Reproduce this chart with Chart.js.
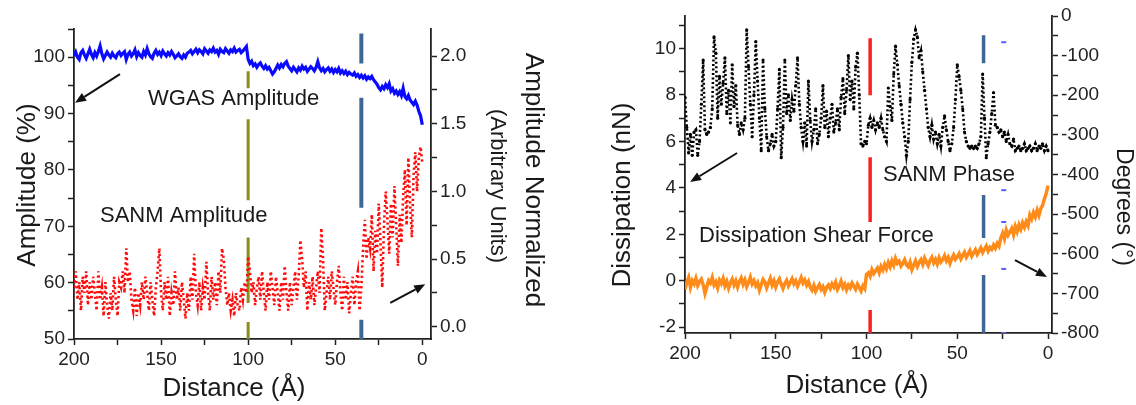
<!DOCTYPE html>
<html>
<head>
<meta charset="utf-8">
<script src="https://cdn.jsdelivr.net/npm/chart.js@4.4.0/dist/chart.umd.min.js"></script>
<style>
  html, body { margin: 0; padding: 0; background: #fff; }
  #wrap { position: relative; width: 1136px; height: 405px; overflow: hidden; }
  #left { position: absolute; left: 0; top: 0; }
  #right { position: absolute; left: 575px; top: 0; }
</style>
</head>
<body>
<div id="wrap">
  <canvas id="left" width="575" height="405"></canvas>
  <canvas id="right" width="561" height="405"></canvas>
</div>
<script>
var FONT = '"Liberation Sans", Arial, Helvetica, sans-serif';

// distance grid, 200 A down to 0 A
var distance = [];
for (var d = 200; d >= 0; d--) distance.push(d);

// left panel: WGAS amplitude (%), left axis
var wgasAmplitude = [
  100.2, 100.9, 100.0, 99.6, 100.8, 101.2, 100.4, 99.8, 100.6, 101.4,
  100.5, 99.9, 100.8, 100.2, 101.0, 102.0, 100.6, 99.7, 100.3, 100.9,
  100.4, 100.0, 100.7, 100.2, 99.9, 100.6, 100.9, 100.3, 100.7, 101.0,
  99.6, 100.5, 100.9, 100.2, 100.6, 101.3, 100.1, 100.8, 100.3, 100.0,
  101.0, 100.4, 101.5, 100.6, 100.1, 99.8, 100.7, 101.2, 100.5, 100.9,
  100.3, 101.1, 100.6, 100.2, 100.8, 100.4, 101.0, 100.5, 99.9, 100.2,
  100.6, 100.1, 99.8, 100.4, 100.0, 100.7, 100.9, 101.2, 100.6, 101.0,
  101.4, 100.8, 101.3, 101.0, 100.6, 101.5, 101.1, 100.7, 101.3, 101.0,
  101.6, 100.9, 101.2, 100.5, 101.4, 101.0, 100.8, 101.5, 101.1, 100.7,
  101.3, 101.0, 101.6, 100.9, 101.2, 101.4, 100.8, 101.1, 101.5, 101.9,
  99.6, 98.9, 99.3, 98.5, 98.8, 98.2, 98.7, 99.0, 98.4, 98.0,
  98.5, 97.9, 98.2, 97.6, 97.0, 97.4, 98.0, 98.6, 98.1, 98.7,
  98.3, 98.9, 99.2, 98.4, 98.0, 97.6, 98.2, 97.8, 97.4, 98.1,
  97.7, 98.4, 97.9, 98.2, 97.5, 97.9, 98.3, 98.0, 97.6, 98.2,
  99.2, 98.1, 97.6, 98.0, 97.4, 97.8, 98.1, 97.5, 97.9, 97.3,
  97.8, 97.4, 98.0, 97.2, 97.6, 97.1, 97.5, 96.9, 97.3, 97.0,
  96.8, 97.2, 96.6, 96.9, 96.4, 96.8, 96.3, 96.7, 96.1, 96.5,
  96.2, 96.6, 96.0, 95.6, 95.2, 94.6, 94.2, 94.8, 94.4, 95.1,
  94.6, 95.3, 94.0, 94.4, 93.6, 94.0, 93.4, 93.9, 93.2, 94.5,
  93.0, 92.6, 93.2, 92.4, 92.0, 91.6, 92.2, 91.5, 90.4, 89.6,
  88.0
];

// left panel: SANM amplitude (arbitrary units), right axis
var sanmAmplitude = [
  0.29, 0.41, 0.20, 0.33, 0.12, 0.37, 0.25, 0.41, 0.16, 0.33,
  0.20, 0.37, 0.25, 0.12, 0.41, 0.20, 0.29, 0.08, 0.33, 0.16,
  0.06, 0.25, 0.12, 0.37, 0.20, 0.08, 0.33, 0.29, 0.41, 0.25,
  0.58, 0.33, 0.41, 0.20, 0.12, 0.29, 0.08, 0.25, 0.16, 0.33,
  0.20, 0.37, 0.25, 0.12, 0.33, 0.20, 0.08, 0.29, 0.41, 0.58,
  0.25, 0.12, 0.33, 0.20, 0.37, 0.08, 0.25, 0.16, 0.41, 0.20,
  0.29, 0.12, 0.33, 0.20, 0.06, 0.25, 0.12, 0.37, 0.20, 0.54,
  0.25, 0.16, 0.33, 0.12, 0.29, 0.20, 0.48, 0.25, 0.12, 0.37,
  0.20, 0.33, 0.16, 0.41, 0.25, 0.58, 0.50, 0.29, 0.16, 0.25,
  0.12, 0.20, 0.08, 0.25, 0.16, 0.12, 0.29, 0.20, 0.33, 0.25,
  0.52, 0.41, 0.25, 0.33, 0.16, 0.29, 0.37, 0.20, 0.41, 0.25,
  0.12, 0.33, 0.20, 0.41, 0.29, 0.16, 0.37, 0.25, 0.12, 0.33,
  0.20, 0.45, 0.25, 0.12, 0.33, 0.16, 0.29, 0.41, 0.20, 0.37,
  0.64, 0.50, 0.29, 0.41, 0.12, 0.33, 0.20, 0.37, 0.16, 0.29,
  0.41, 0.25, 0.73, 0.50, 0.12, 0.25, 0.37, 0.20, 0.41, 0.29,
  0.16, 0.33, 0.45, 0.25, 0.12, 0.37, 0.20, 0.33, 0.10, 0.25,
  0.37, 0.16, 0.33, 0.41, 0.12, 0.29, 0.58, 0.79, 0.50, 0.66,
  0.58, 0.83, 0.41, 0.71, 0.54, 0.91, 0.62, 0.29, 0.75, 1.00,
  0.79, 0.54, 0.91, 0.66, 1.04, 0.75, 0.45, 0.83, 0.62, 0.96,
  1.16, 0.75, 1.25, 0.91, 0.66, 1.12, 1.29, 1.00, 1.25, 1.33,
  1.21
];

// right panel: SANM phase trace (nN), left axis
var sanmPhase = [
  7.9, 6.6, 5.5, 6.3, 5.4, 6.4, 6.5, 5.4, 6.0, 7.6,
  9.5, 6.5, 6.3, 6.4, 6.6, 7.4, 10.5, 9.8, 7.0, 8.8,
  7.6, 8.5, 9.6, 7.2, 8.2, 6.8, 9.3, 7.5, 8.4, 6.7,
  6.3, 6.8, 6.5, 7.0, 10.8, 9.2, 7.6, 6.2, 8.0, 10.3,
  8.6, 7.0, 5.6, 9.5, 7.4, 6.2, 5.6, 5.9, 6.3, 5.8,
  6.0, 7.4, 9.1, 5.3, 6.6, 9.5, 7.2, 8.0, 6.9, 7.8,
  7.3, 8.4, 9.6, 7.6, 6.6, 6.0, 6.8, 5.8, 8.6, 6.9,
  6.0, 6.5, 7.4, 5.9, 6.3, 7.0, 8.4, 6.6, 7.3, 6.2,
  7.0, 7.6, 6.4, 6.8, 7.4, 6.5, 7.9, 8.7, 7.2, 8.2,
  9.7, 7.8, 8.6, 7.4, 9.2, 9.8, 8.0, 5.9, 5.8, 6.0,
  5.9, 6.7, 7.0, 6.6, 6.9, 6.5, 6.8, 6.6, 7.0, 6.5,
  6.2, 6.0, 8.3, 7.5, 6.9, 8.9, 10.1, 9.3, 8.4, 7.6,
  6.8, 6.2, 5.4, 6.0, 7.8, 9.4, 10.4, 10.8, 10.5, 9.6,
  9.9, 9.0, 8.2, 7.4, 6.6, 6.2, 6.7, 6.1, 6.4, 5.9,
  6.3, 5.8, 6.6, 7.1, 6.5, 6.0, 5.6, 5.9, 6.6, 7.8,
  9.3, 8.8, 8.2, 7.4, 6.4, 6.0, 5.8, 5.7, 5.8, 5.7,
  5.8, 5.7, 5.9, 6.2, 8.9, 7.0, 5.3, 5.9, 6.4, 7.2,
  8.1, 6.7, 6.6, 6.4, 6.5, 6.2, 6.4, 6.0, 6.3, 5.9,
  5.8, 6.1, 5.6, 5.7, 5.8, 5.6, 5.7, 5.9, 5.6, 5.7,
  5.8, 5.6, 5.7, 5.9, 5.6, 5.8, 5.7, 5.9, 5.6, 5.8,
  5.6
];

// right panel: dissipation shear force trace (degrees), right axis
var shearForce = [
  -690, -672, -660, -685, -668, -676, -662, -680, -670, -664,
  -678, -700, -684, -668, -674, -660, -679, -671, -686, -667,
  -675, -662, -681, -670, -687, -673, -664, -679, -668, -684,
  -670, -661, -677, -666, -683, -672, -659, -676, -668, -681,
  -673, -692, -678, -665, -671, -686, -674, -662, -679, -668,
  -684, -671, -663, -677, -688, -675, -667, -681, -672, -663,
  -676, -668, -682, -672, -660, -674, -666, -679, -670, -684,
  -692, -680, -695, -686, -678, -690, -683, -697, -685, -679,
  -688, -676, -684, -672, -690, -681, -669, -685, -677, -691,
  -679, -686, -674, -682, -690, -677, -685, -694, -681, -688,
  -652, -648, -657, -640, -650, -643, -636, -648, -632, -641,
  -627, -638, -622, -633, -618, -629, -612, -624, -619, -631,
  -624, -615, -628, -633, -621, -640, -629, -618, -632, -622,
  -615, -627, -611, -621, -630, -617, -609, -623, -614, -626,
  -610, -621, -615, -605, -618, -609, -624, -612, -603, -614,
  -608, -600, -613, -604, -596, -609, -601, -592, -606, -598,
  -590, -602, -594, -585, -597, -588, -580, -593, -584, -589,
  -578, -586, -574, -581, -560, -548, -562, -540, -553, -545,
  -536, -552, -531, -544, -527, -538, -522, -533, -519, -529,
  -502, -512, -496, -507, -490, -503, -486, -478, -462, -448,
  -428
];

// vertical marker lines: position (A) and drawn pieces (left-axis units)
var leftOliveAt = 100;
var leftOliveSegs = [[97.5, 94.5], [89.0, 74.6], [68.0, 56.4], [53.0, 50.0]];
var leftBlueAt = 35;
var leftBlueSegs = [[104.2, 98.9], [92.8, 73.3], [53.4, 50.0]];
var rightRedAt = 98;
var rightRedSegs = [[10.44, 7.99], [5.32, 2.53], [-1.26, -2.25]];
var rightBlueAt = 35.5;
var rightBlueSegs = [[10.57, 9.37], [3.69, 1.84], [0.25, -2.25]];
var rightSmallAt = 24.4;
var rightSmallMarks = [10.27, 3.9, 2.53, 0.51, -2.25];

// arrows: [fromDistance, fromValue, toDistance, toValue] in left-axis units
var leftArrows = [[173.6, 97.0, 199.4, 91.9], [18.4, 56.4, -1.7, 59.7]];
var rightArrows = [[171.3, 5.5, 197.2, 4.25], [18.2, 0.89, 0.55, 0.16]];

function pts(values) {
  return values.map(function (v, i) { return { x: distance[i], y: v }; });
}

function markerPts(at, segs) {
  var out = [];
  segs.forEach(function (s) {
    out.push({ x: at, y: s[0] }, { x: at, y: s[1] }, { x: at, y: null });
  });
  return out;
}

var annotate = {
  id: 'annotate',
  afterDatasetsDraw: function (chart, args, opts) {
    var ctx = chart.ctx, xs = chart.scales.x, ys = chart.scales.y;
    ctx.save();
    (opts.arrows || []).forEach(function (a) {
      var x0 = xs.getPixelForValue(a[0]), y0 = ys.getPixelForValue(a[1]);
      var x1 = xs.getPixelForValue(a[2]), y1 = ys.getPixelForValue(a[3]);
      var ang = Math.atan2(y1 - y0, x1 - x0);
      var hl = 11, hw = 4.5;
      var bx = x1 - hl * Math.cos(ang), by = y1 - hl * Math.sin(ang);
      ctx.strokeStyle = '#111';
      ctx.lineWidth = 2;
      ctx.beginPath();
      ctx.moveTo(x0, y0);
      ctx.lineTo(bx, by);
      ctx.stroke();
      ctx.fillStyle = '#111';
      ctx.beginPath();
      ctx.moveTo(x1, y1);
      ctx.lineTo(bx + hw * Math.sin(ang), by - hw * Math.cos(ang));
      ctx.lineTo(bx - hw * Math.sin(ang), by + hw * Math.cos(ang));
      ctx.closePath();
      ctx.fill();
    });
    (opts.texts || []).forEach(function (t) {
      ctx.save();
      ctx.translate(t.x, t.y);
      ctx.rotate((t.rot || 0) * Math.PI / 180);
      ctx.font = t.size + 'px ' + FONT;
      ctx.fillStyle = '#1a1a1a';
      ctx.textAlign = t.align || 'center';
      ctx.textBaseline = 'middle';
      ctx.fillText(t.text, 0, 0);
      ctx.restore();
    });
    ctx.restore();
  }
};

function axis(pos, min, max, step, size, label) {
  var horiz = pos === 'bottom';
  return {
    type: 'linear',
    position: pos,
    reverse: horiz,
    min: min,
    max: max,
    afterFit: function (s) {
      if (horiz) s.height = size; else s.width = size;
    },
    ticks: {
      stepSize: step,
      includeBounds: false,
      autoSkip: false,
      maxRotation: 0,
      padding: 3,
      color: '#222',
      font: { family: FONT, size: 19 },
      callback: label
    },
    grid: { drawOnChartArea: false, tickLength: 6, tickWidth: 1.5, color: '#222' },
    border: { display: true, color: '#222', width: 1.8 }
  };
}

function every(n) {
  return function (v) { return Math.abs(v % n) < 1e-6 ? String(v) : ''; };
}

var baseOpts = {
  responsive: false,
  animation: false,
  events: [],
  plugins: { legend: { display: false }, tooltip: { enabled: false } },
  elements: { line: { tension: 0 } }
};

new Chart(document.getElementById('left').getContext('2d'), {
  type: 'line',
  data: {
    datasets: [
      { label: 'WGAS Amplitude', data: pts(wgasAmplitude), yAxisID: 'y',
        borderColor: '#0a0aff', borderWidth: 3.2, pointRadius: 0, order: 1 },
      { label: 'SANM Amplitude', data: pts(sanmAmplitude), yAxisID: 'y2',
        borderColor: '#ff0a0a', borderWidth: 2.6, borderDash: [2.2, 3], pointRadius: 0, order: 2 },
      { label: 'marker 100', data: markerPts(leftOliveAt, leftOliveSegs), yAxisID: 'y',
        borderColor: '#8c8c1e', borderWidth: 3, pointRadius: 0, spanGaps: false, order: 5 },
      { label: 'marker 35', data: markerPts(leftBlueAt, leftBlueSegs), yAxisID: 'y',
        borderColor: '#3f6796', borderWidth: 4, pointRadius: 0, spanGaps: false, order: 5 }
    ]
  },
  options: Object.assign({}, baseOpts, {
    layout: { padding: { top: 29, left: 0, right: 0, bottom: 0 } },
    scales: {
      x: axis('bottom', -5, 200, 25, 66, every(50)),
      y: axis('left', 50, 105, 5, 74, every(10)),
      y2: axis('right', -0.09, 2.2, 0.25, 144, function (v) {
        return Math.round(v * 4) % 2 === 0 ? v.toFixed(1) : '';
      })
    },
    plugins: Object.assign({}, baseOpts.plugins, {
      annotate: {
        arrows: leftArrows,
        texts: [
          { text: 'Amplitude (%)', x: 28, y: 185, rot: -90, size: 26 },
          { text: 'Amplitude Normalized', x: 533, y: 180, rot: 90, size: 26 },
          { text: '(Arbitrary Units)', x: 497, y: 186, rot: 90, size: 22 },
          { text: 'Distance (Å)', x: 234, y: 389, size: 26 },
          { text: 'WGAS Amplitude', x: 148, y: 99, size: 22, align: 'left' },
          { text: 'SANM Amplitude', x: 100, y: 216, size: 22, align: 'left' }
        ]
      }
    })
  }),
  plugins: [annotate]
});

new Chart(document.getElementById('right').getContext('2d'), {
  type: 'line',
  data: {
    datasets: [
      { label: 'SANM Phase', data: pts(sanmPhase), yAxisID: 'y',
        borderColor: '#000', borderWidth: 2.6, borderDash: [2, 2.5],
        pointRadius: 1.6, pointBorderWidth: 0, pointBackgroundColor: '#000', order: 1 },
      { label: 'Dissipation Shear Force', data: pts(shearForce), yAxisID: 'y2',
        borderColor: '#ff8c1a', borderWidth: 3.5, pointRadius: 0, order: 2 },
      { label: 'marker 98', data: markerPts(rightRedAt, rightRedSegs), yAxisID: 'y',
        borderColor: '#ff1f1f', borderWidth: 3.5, pointRadius: 0, spanGaps: false, order: 5 },
      { label: 'marker 35', data: markerPts(rightBlueAt, rightBlueSegs), yAxisID: 'y',
        borderColor: '#3f6796', borderWidth: 3.5, pointRadius: 0, spanGaps: false, order: 5 },
      { label: 'small marks', data: rightSmallMarks.map(function (v) { return { x: rightSmallAt, y: v }; }),
        yAxisID: 'y', showLine: false, pointStyle: 'line', pointRadius: 2.5,
        pointBorderColor: '#5a5aff', pointBorderWidth: 2, order: 5 }
    ]
  },
  options: Object.assign({}, baseOpts, {
    layout: { padding: { top: 16, left: 0, right: 0, bottom: 0 } },
    scales: {
      x: axis('bottom', -2.2, 200, 25, 72, every(50)),
      y: axis('left', -2.25, 11.4, 1, 110, every(2)),
      y2: axis('right', -800, 0, 50, 84, every(100))
    },
    plugins: Object.assign({}, baseOpts.plugins, {
      annotate: {
        arrows: rightArrows,
        texts: [
          { text: 'Dissipation (nN)', x: 48, y: 195, rot: -90, size: 26 },
          { text: 'Degrees (°)', x: 548, y: 207, rot: 90, size: 23 },
          { text: 'Distance (Å)', x: 282, y: 386, size: 26 },
          { text: 'SANM Phase', x: 308, y: 175, size: 22, align: 'left' },
          { text: 'Dissipation Shear Force', x: 124, y: 236, size: 22, align: 'left' }
        ]
      }
    })
  }),
  plugins: [annotate]
});
</script>
</body>
</html>
